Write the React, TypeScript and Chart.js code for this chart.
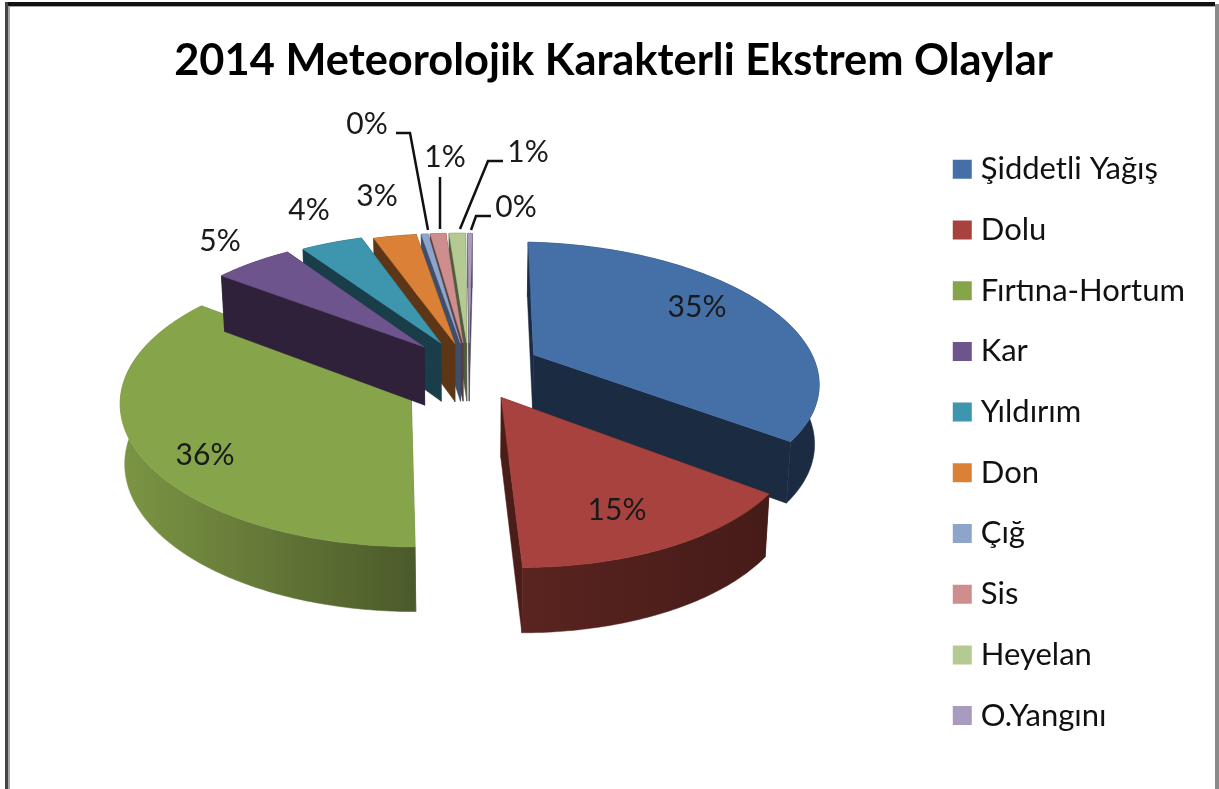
import React, { useEffect, useRef } from "react";
import { Chart, registerables } from "chart.js";

Chart.register(...registerables);

const TITLE = "2014 Meteorolojik Karakterli Ekstrem Olaylar";
const categories = ["Şiddetli Yağış", "Dolu", "Fırtına-Hortum", "Kar", "Yıldırım", "Don", "Çığ", "Sis", "Heyelan", "O.Yangını"];
const shares = [34.6, 14.5, 35.5, 5.4, 4.2, 2.9, 0.45, 1.05, 1.1, 0.3];
const shownLabels = ["35%", "15%", "36%", "5%", "4%", "3%", "0%", "1%", "1%", "0%"];

const colors = ["#4570A7", "#A8423F", "#86A44A", "#6E548D", "#3D96AE", "#DA8137", "#8EA5CB", "#CE8E8D", "#B5CA92", "#A99BBD"];
const wallColors = ["#1A2B42", "#4A1D19", "#5F7534", "#2E2139", "#1A3E49", "#5C3616", "#3F4F6B", "#5A3D3D", "#4F5C3D", "#4A4358"];
const rimShades: [string, string][] = [
  ["#1A2B42", "#1A2B42"],
  ["#5A2420", "#451B18"],
  ["#7C9544", "#4B5A2A"],
  ["#2E2139", "#2E2139"],
  ["#1A3E49", "#1A3E49"],
  ["#5C3616", "#5C3616"],
  ["#3F4F6B", "#3F4F6B"],
  ["#5A3D3D", "#5A3D3D"],
  ["#4F5C3D", "#4F5C3D"],
  ["#4A4358", "#4A4358"],
];
// explosion of each slice, as a share of the radius x 100
const explosion = [26, 23, 23, 23, 22, 20, 20, 20, 20, 20];
const ROTATION_DEG = 3;

// perspective camera of the pie plane
const CAM = { cx: 469, cy: 369, vx: 396, A: 283, B: 134, D: 6.5, H: 59, shrink: 0.013 };

// label placement (centre of text)
const labelPos: [number, number][] = [[697, 307], [617, 510], [205, 455], [220, 241], [309, 210], [377, 196], [367, 124], [445, 157], [528, 152], [516, 207]];
const leaders: ([number, number][] | null)[] = [
  null, null, null, null, null, null,
  [[396, 133], [410, 133], [428, 230]],
  null,
  [[503, 161], [488, 161], [460, 229]],
  [[491, 216], [476, 216], [471, 230]],
];
const leaderStraight: [number, number][] = [[440, 177], [440, 229]];
const DRAW_ORDER = [0, 9, 8, 7, 6, 5, 4, 2, 3, 1];

function project(u: number, v: number, z: number): [number, number] {
  const w = 1 + v / CAM.D;
  let sx = CAM.vx + (CAM.cx - CAM.vx + CAM.A * u) / w;
  const sy = CAM.cy - (CAM.B * v) / w + (CAM.H * z) / Math.sqrt(w);
  sx -= (sx - CAM.cx) * CAM.shrink * z;
  return [sx, sy];
}

const pie3d = {
  id: "pie3d",
  beforeDraw(chart: any) {
    const { ctx, width, height } = chart;
    ctx.save();
    ctx.fillStyle = "#ffffff";
    ctx.fillRect(0, 0, width, height);
    ctx.fillStyle = "#111111";
    ctx.fillRect(5, 2, width - 5 - 4, 4);
    ctx.fillStyle = "#444444";
    ctx.fillRect(5, 2, 3, height);
    ctx.fillStyle = "#a5a5a5";
    ctx.fillRect(8, 6, 2, height);
    ctx.fillRect(8, 6, width - 12, 1);
    ctx.fillStyle = "#8a8a8a";
    ctx.fillRect(width - 4, 4, 4, height);
    ctx.restore();
  },
  beforeDatasetDraw(chart: any) {
    const ctx = chart.ctx as CanvasRenderingContext2D;
    const arcs = chart.getDatasetMeta(0).data;
    const poly = (pts: [number, number][], fill: string | CanvasGradient) => {
      ctx.beginPath();
      pts.forEach((p, i) => (i ? ctx.lineTo(p[0], p[1]) : ctx.moveTo(p[0], p[1])));
      ctx.closePath();
      ctx.fillStyle = fill;
      ctx.fill();
      ctx.strokeStyle = fill as string;
      ctx.lineWidth = 0.5;
      ctx.stroke();
    };
    DRAW_ORDER.forEach((i) => {
      const el = arcs[i];
      const t1 = el.startAngle + Math.PI / 2;
      const t2 = el.endAngle + Math.PI / 2;
      const mid = (t1 + t2) / 2;
      const off = (el.options.offset || 0) / 100;
      const u0 = off * Math.sin(mid);
      const v0 = off * Math.cos(mid);
      const rimAt = (t: number, z: number) => project(u0 + Math.sin(t), v0 + Math.cos(t), z);
      const steps = Math.max(2, Math.ceil((t2 - t1) / 0.015));
      const ts: number[] = [];
      for (let s = 0; s <= steps; s++) ts.push(t1 + ((t2 - t1) * s) / steps);
      const apexTop = project(u0, v0, 0);
      const apexBot = project(u0, v0, 1);
      // radial walls
      poly([apexTop, rimAt(t1, 0), rimAt(t1, 1), apexBot], wallColors[i]);
      poly([apexTop, rimAt(t2, 0), rimAt(t2, 1), apexBot], wallColors[i]);
      // rim wall
      const top = ts.map((t) => rimAt(t, 0));
      const bot = ts.map((t) => rimAt(t, 1)).reverse();
      const xs = top.map((p) => p[0]);
      const g = ctx.createLinearGradient(Math.min(...xs), 0, Math.max(...xs), 0);
      g.addColorStop(0, rimShades[i][0]);
      g.addColorStop(1, rimShades[i][1]);
      poly([...top, ...bot], g);
      // top face
      poly([apexTop, ...top], colors[i]);
    });
    // value labels and leader lines
    ctx.save();
    ctx.font = "30px Lato";
    ctx.textAlign = "center";
    ctx.textBaseline = "middle";
    ctx.fillStyle = "#1a1a1a";
    shownLabels.forEach((t, i) => ctx.fillText(t, labelPos[i][0], labelPos[i][1]));
    ctx.strokeStyle = "#111111";
    ctx.lineWidth = 2.5;
    [...leaders, leaderStraight].forEach((l) => {
      if (!l) return;
      ctx.beginPath();
      l.forEach((p, k) => (k ? ctx.lineTo(p[0], p[1]) : ctx.moveTo(p[0], p[1])));
      ctx.stroke();
    });
    ctx.restore();
    return false;
  },
};

export default function App() {
  const ref = useRef<HTMLCanvasElement>(null);
  useEffect(() => {
    const chart = new Chart(ref.current as HTMLCanvasElement, {
      type: "pie",
      data: {
        labels: categories,
        datasets: [{ data: shares, backgroundColor: colors, borderWidth: 0, offset: explosion }],
      },
      options: {
        responsive: false,
        animation: false,
        rotation: ROTATION_DEG,
        layout: { padding: { top: 35, right: 24, left: 32, bottom: 0 } },
        plugins: {
          title: {
            display: true,
            text: TITLE,
            color: "#000000",
            font: { family: "Lato", size: 43.4, weight: "bold" },
            padding: { top: 0, bottom: 37 },
          },
          legend: {
            display: true,
            position: "right",
            align: "start",
            fullSize: false,
            labels: {
              color: "#111111",
              font: { family: "Lato", size: 31 },
              usePointStyle: true,
              pointStyle: "rect",
              boxWidth: 6,
              boxHeight: 19,
              padding: 29.7,
            },
          },
          tooltip: { enabled: false },
        },
      },
      plugins: [pie3d],
    } as any);
    return () => chart.destroy();
  }, []);
  return (
    <div style={{ position: "fixed", left: 0, top: 0, width: 1219, height: 789, background: "#fff" }}>
      <canvas ref={ref} width={1219} height={789} style={{ display: "block" }} />
    </div>
  );
}
